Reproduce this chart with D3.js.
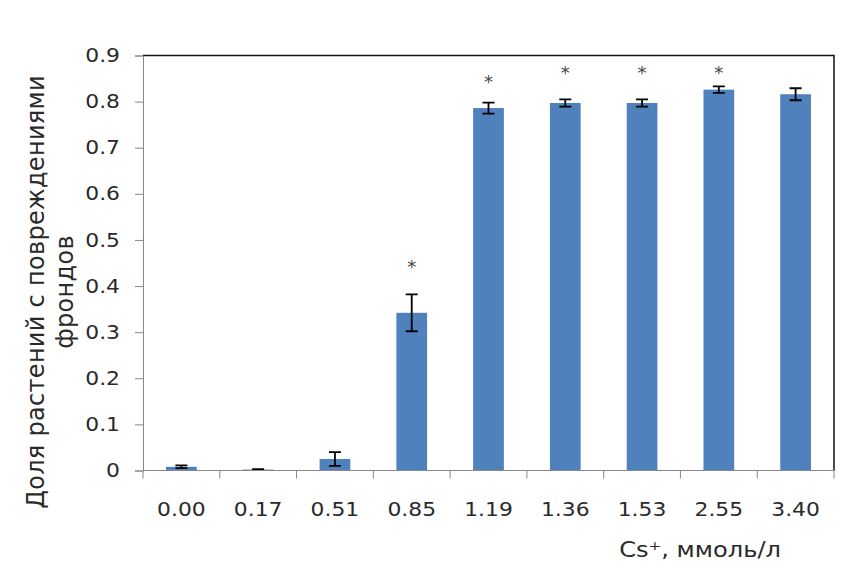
<!DOCTYPE html>
<html>
<head>
<meta charset="utf-8">
<script src="https://cdn.jsdelivr.net/npm/d3@7"></script>
<style>
  body { margin: 0; background: #fff; }
  text { font-family: "DejaVu Sans", Verdana, sans-serif; fill: #2a2a2a; }
</style>
</head>
<body>
<svg width="863" height="569"></svg>
<script>
// data
var categories = ["0.00", "0.17", "0.51", "0.85", "1.19", "1.36", "1.53", "2.55", "3.40"];
var means = [0.008, 0.002, 0.025, 0.342, 0.786, 0.797, 0.797, 0.826, 0.816];
var errors = [0.003, 0.001, 0.015, 0.040, 0.012, 0.008, 0.008, 0.007, 0.013];
// height (in axis units) of the significance star, null = none
var starLevels = [null, null, null, 0.446, 0.847, 0.866, 0.866, 0.866, null];
var yTicks = [0, 0.1, 0.2, 0.3, 0.4, 0.5, 0.6, 0.7, 0.8, 0.9];

var svg = d3.select("svg"),
    margin = {top: 55.5, right: 29, bottom: 98.5, left: 143},
    width = +svg.attr("width") - margin.left - margin.right,
    height = +svg.attr("height") - margin.top - margin.bottom;

// the source picture looks stretched sideways, so text is widened a bit
var sx = 1.15;

var data = categories.map(function (c, i) {
    return {cat: c, mean: means[i], err: errors[i], star: starLevels[i]};
});

var x = d3.scaleBand().domain(categories).range([0, width])
    .paddingInner(0.6).paddingOuter(0.3);
var y = d3.scaleLinear().domain([0, 0.9]).range([height, 0]);

var g = svg.append("g")
    .attr("transform", "translate(" + margin.left + "," + margin.top + ")");

// plot area frame (top / right)
g.append("path")
    .attr("d", "M0,0H" + width + "V" + height)
    .attr("fill", "none")
    .attr("stroke", "#111")
    .attr("stroke-width", 1.5);

// bars
g.selectAll(".bar")
    .data(data)
    .enter().append("rect")
    .attr("class", "bar")
    .attr("x", function (d) { return x(d.cat); })
    .attr("width", x.bandwidth())
    .attr("y", function (d) { return y(d.mean); })
    .attr("height", function (d) { return height - y(d.mean); })
    .attr("fill", "#4f81bd");

// error bars
var eb = g.selectAll(".err")
    .data(data)
    .enter().append("g")
    .attr("class", "err")
    .attr("transform", function (d) { return "translate(" + (x(d.cat) + x.bandwidth() / 2) + ",0)"; });
eb.append("path")
    .attr("d", function (d) {
        var t = y(d.mean + d.err), b = y(Math.max(0, d.mean - d.err));
        return "M0," + t + "V" + b + "M-6," + t + "H6M-6," + b + "H6";
    })
    .attr("fill", "none")
    .attr("stroke", "#000")
    .attr("stroke-width", 1.8);

// stars
g.selectAll(".star")
    .data(data.filter(function (d) { return d.star != null; }))
    .enter().append("text")
    .attr("class", "star")
    .attr("x", function (d) { return x(d.cat) + x.bandwidth() / 2; })
    .attr("y", function (d) { return y(d.star) + 8; })
    .attr("text-anchor", "middle")
    .style("font-size", "18px")
    .style("fill", "#444")
    .text("*");

// y axis
var yAxis = g.append("g")
    .attr("class", "y axis")
    .call(d3.axisLeft(y).tickValues(yTicks).tickSize(8).tickPadding(15)
        .tickFormat(function (d) { return d === 0 ? "0" : d3.format(".1f")(d); }));
yAxis.selectAll("text")
    .style("font-size", "19px")
    .attr("x", -23 / sx)
    .attr("transform", "scale(" + sx + ",1)");
yAxis.selectAll("line, path").attr("stroke", "#888");

// x axis with ticks between categories
var step = x.step();
var bounds = categories.map(function (c) { return x(c) - step * 0.3; }).concat([width]);
var xAxis = g.append("g")
    .attr("class", "x axis")
    .attr("transform", "translate(0," + height + ")");
xAxis.append("line")
    .attr("x1", 0).attr("x2", width)
    .attr("stroke", "#888");
xAxis.selectAll(".tk")
    .data(bounds)
    .enter().append("line")
    .attr("class", "tk")
    .attr("x1", function (d) { return d; })
    .attr("x2", function (d) { return d; })
    .attr("y1", 0).attr("y2", 8)
    .attr("stroke", "#888");
xAxis.selectAll(".lbl")
    .data(categories)
    .enter().append("text")
    .attr("class", "lbl")
    .attr("transform", "scale(" + sx + ",1)")
    .attr("x", function (d) { return (x(d) + x.bandwidth() / 2) / sx; })
    .attr("y", 39)
    .attr("dy", "0.35em")
    .attr("text-anchor", "middle")
    .style("font-size", "19px")
    .text(function (d) { return d; });

// axis titles
svg.append("text")
    .attr("transform", "scale(" + sx + ",1)")
    .attr("x", 781 / sx)
    .attr("y", 550)
    .attr("dy", "0.35em")
    .attr("text-anchor", "end")
    .style("font-size", "21px")
    .text("Cs\u207A, ммоль/л");

var yt = svg.append("text")
    .attr("transform", "translate(50,292) rotate(-90)")
    .attr("text-anchor", "middle")
    .style("font-size", "24px")
    .style("letter-spacing", "0.3px");
yt.append("tspan").attr("x", 0).attr("y", -6).text("Доля растений с повреждениями");
yt.append("tspan").attr("x", 0).attr("y", 23).text("фрондов");
</script>
</body>
</html>
